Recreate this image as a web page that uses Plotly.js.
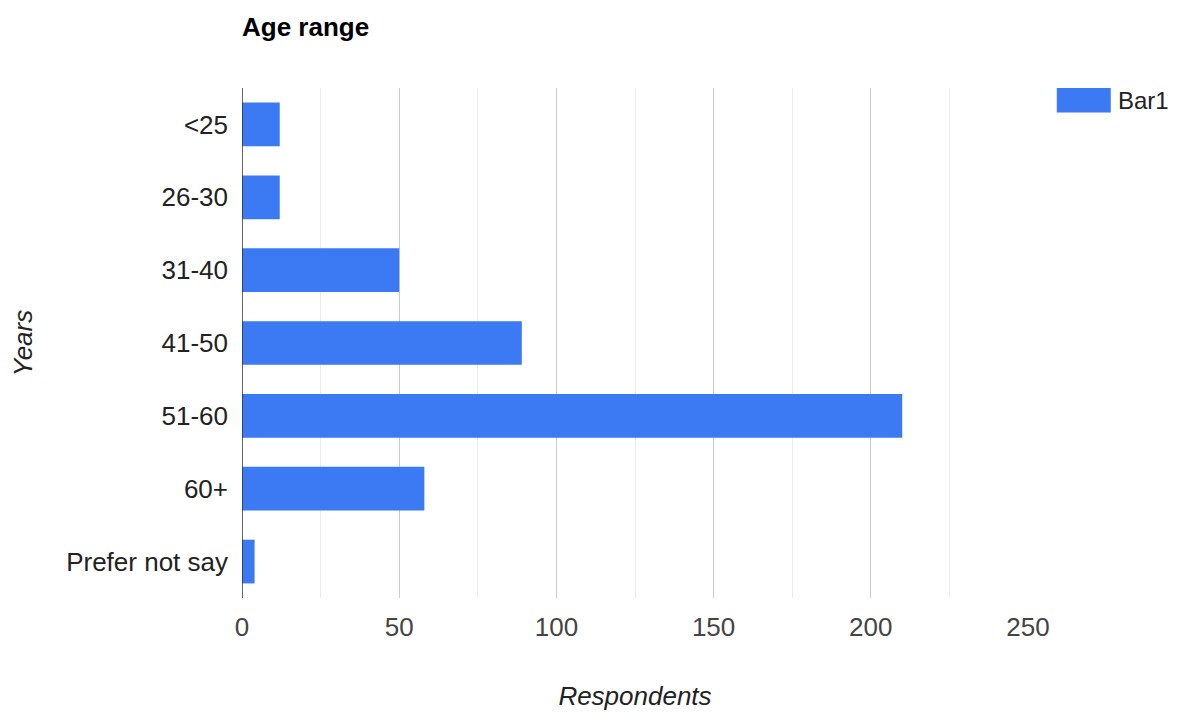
<!DOCTYPE html>
<html>
<head>
<meta charset="utf-8">
<script src="https://cdn.plot.ly/plotly-3.0.1.min.js"></script>
<style>html,body{margin:0;padding:0;background:#fff;}#chart{width:1188px;height:713px;}</style>
</head>
<body>
<div id="chart"></div>
<script>
const categories = ["<25", "26-30", "31-40", "41-50", "51-60", "60+", "Prefer not say"];
const respondents = [12, 12, 50, 89, 210, 58, 4];
const xTicks = [0, 50, 100, 150, 200, 250];
const seriesName = "Bar1";
const barColor = "#3b7af2";

const FONT = "Liberation Sans, Arial, sans-serif";
const FS = 26;

const trace = {
  type: "bar",
  orientation: "h",
  y: categories,
  x: respondents,
  name: seriesName,
  marker: {color: barColor},
  showlegend: false,
  hoverinfo: "x+y"
};

const layout = {
  width: 1188,
  height: 713,
  margin: {l: 242, r: 160, t: 88, b: 115},
  paper_bgcolor: "#fff",
  plot_bgcolor: "#fff",
  font: {family: FONT, size: FS, color: "#222"},
  bargap: 0.4,
  title: {
    text: "<b>Age range</b>",
    font: {family: FONT, size: FS, color: "#000"},
    x: 242 / 1188, xref: "container", xanchor: "left",
    y: 1 - 27 / 713, yref: "container", yanchor: "middle"
  },
  xaxis: {
    range: [0, 250],
    tickvals: xTicks,
    ticktext: xTicks.map(String),
    tickfont: {family: FONT, size: FS, color: "#444"},
    showgrid: true,
    gridcolor: "#cccccc",
    gridwidth: 1,
    minor: {dtick: 25, showgrid: true, gridcolor: "#ebebeb", gridwidth: 1},
    zeroline: false,
    showline: false,
    ticks: "",
    ticklabelstandoff: 11,
    title: {text: "<i>Respondents</i>", font: {family: FONT, size: FS, color: "#222"}, standoff: 45},
    automargin: false,
    fixedrange: true
  },
  yaxis: {
    autorange: "reversed",
    tickfont: {family: FONT, size: FS, color: "#222"},
    showgrid: false,
    zeroline: false,
    showline: false,
    ticks: "",
    ticklabelstandoff: 13,
    title: {text: "<i>Years</i>", font: {family: FONT, size: FS, color: "#222"}, standoff: 26},
    automargin: false,
    fixedrange: true
  },
  shapes: [
    {type: "line", xref: "x", yref: "paper", x0: 0, x1: 0, y0: 0, y1: 1, line: {color: "#333", width: 1.5}},
    {type: "rect", xref: "paper", yref: "paper", x0: 1.0366, x1: 1.1053, y0: 0.952, y1: 1.0, fillcolor: barColor, line: {width: 0}}
  ],
  annotations: [
    {text: seriesName, xref: "paper", yref: "paper", x: 1.1115, y: 0.976, xanchor: "left", yanchor: "middle", showarrow: false, font: {family: FONT, size: 24, color: "#222"}}
  ]
};

Plotly.newPlot("chart", [trace], layout, {displayModeBar: false, staticPlot: true});
</script>
</body>
</html>
